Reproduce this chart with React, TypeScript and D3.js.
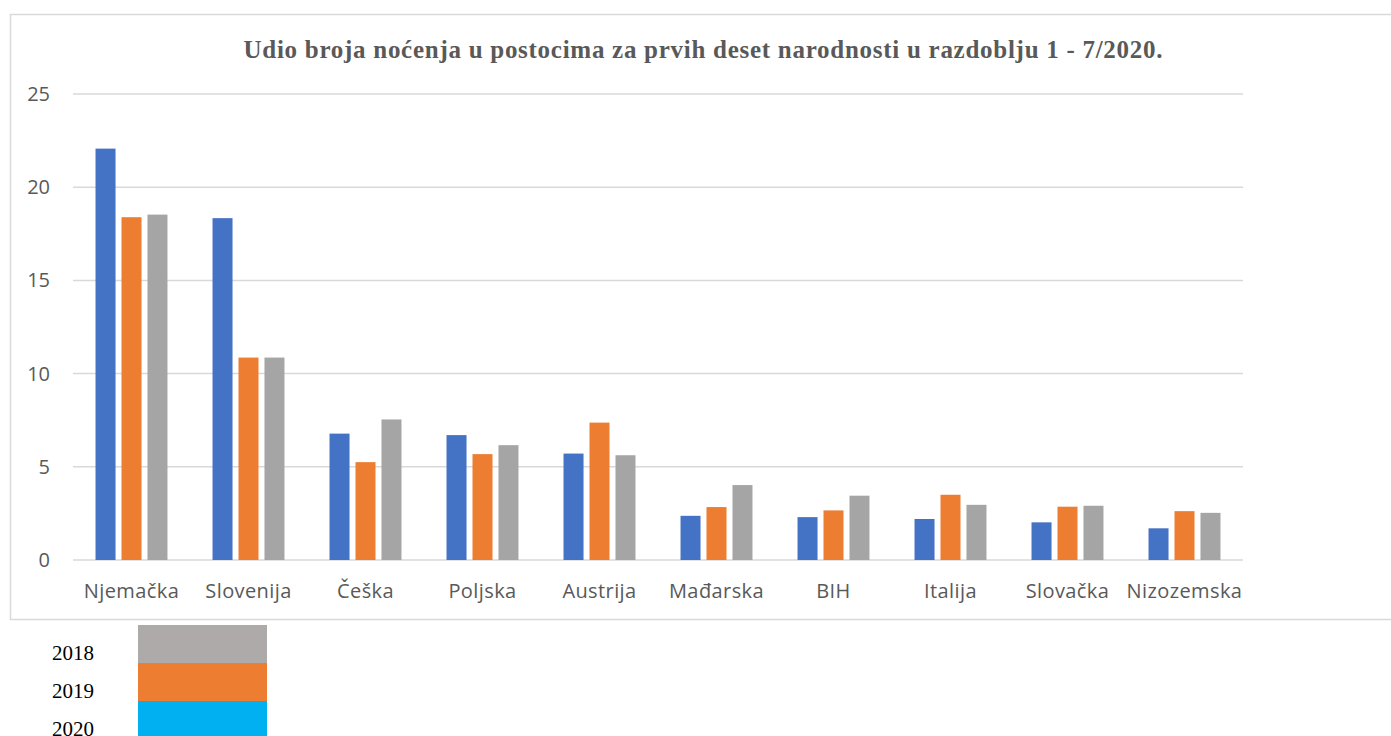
import React, { useEffect, useRef } from "react";
import * as d3 from "d3";

const countries = ["Njemačka", "Slovenija", "Češka", "Poljska", "Austrija", "Mađarska", "BIH", "Italija", "Slovačka", "Nizozemska"];
const series = ["2020", "2019", "2018"];
const values2020 = [22.07, 18.34, 6.78, 6.70, 5.71, 2.37, 2.30, 2.20, 2.02, 1.70];
const values2019 = [18.39, 10.86, 5.25, 5.68, 7.37, 2.84, 2.66, 3.50, 2.86, 2.62];
const values2018 = [18.53, 10.86, 7.54, 6.16, 5.62, 4.02, 3.45, 2.96, 2.91, 2.53];
const yTicks = [0, 5, 10, 15, 20, 25];
const legendLabels = ["2018", "2019", "2020"];

const title = "Udio broja noćenja u postocima za prvih deset narodnosti u razdoblju 1 - 7/2020.";

export default function App() {
  const ref = useRef<SVGSVGElement>(null);

  useEffect(() => {
    const width = 1391, height = 736;
    const margin = { top: 94, right: 148, bottom: 176, left: 73 };
    const innerW = width - margin.left - margin.right;
    const innerH = height - margin.top - margin.bottom;

    const svg = d3.select(ref.current);
    svg.selectAll("*").remove();

    // chart area frame
    svg.append("rect")
      .attr("x", 10.5).attr("y", 14.5)
      .attr("width", 1400).attr("height", 605)
      .attr("fill", "#fff").attr("stroke", "#d9d9d9").attr("stroke-width", 1.5);

    svg.append("text")
      .text(title)
      .attr("x", 703).attr("y", 58)
      .attr("text-anchor", "middle")
      .attr("textLength", 919)
      .attr("lengthAdjust", "spacing")
      .attr("font-family", "'Liberation Serif', 'Times New Roman', serif")
      .attr("font-weight", "bold")
      .attr("font-size", 25)
      .attr("fill", "#595959");

    const g = svg.append("g").attr("transform", `translate(${margin.left},${margin.top})`);

    const x0 = d3.scaleBand().domain(countries).range([0, innerW]).paddingInner(0.385).paddingOuter(0.1925);
    const x1 = d3.scaleBand().domain(series).range([0, x0.bandwidth()]).paddingInner(0.23);
    const y = d3.scaleLinear().domain([0, 25]).range([innerH, 0]);

    g.selectAll(".grid").data(yTicks).enter().append("line")
      .attr("x1", 0).attr("x2", innerW)
      .attr("y1", d => y(d)).attr("y2", d => y(d))
      .attr("stroke", "#d9d9d9").attr("stroke-width", 1.5);

    g.selectAll(".ytick").data(yTicks).enter().append("text")
      .text(d => d)
      .attr("x", -23).attr("y", d => y(d) + 7)
      .attr("text-anchor", "end")
      .attr("font-family", "'Open Sans', sans-serif")
      .attr("font-size", 20)
      .attr("fill", "#595959");

    const colors: Record<string, string> = { "2020": "#4472C4", "2019": "#ED7D31", "2018": "#A5A5A5" };
    const data = countries.map((c, i) => ({
      country: c,
      vals: [
        { key: "2020", v: values2020[i] },
        { key: "2019", v: values2019[i] },
        { key: "2018", v: values2018[i] },
      ],
    }));

    const groups = g.selectAll(".grp").data(data).enter().append("g")
      .attr("transform", d => `translate(${x0(d.country)},0)`);
    groups.selectAll("rect").data(d => d.vals).enter().append("rect")
      .attr("x", d => x1(d.key)!)
      .attr("width", x1.bandwidth())
      .attr("y", d => y(d.v))
      .attr("height", d => innerH - y(d.v))
      .attr("fill", d => colors[d.key]);

    g.selectAll(".xlab").data(countries).enter().append("text")
      .text(d => d)
      .attr("x", d => x0(d)! + x0.bandwidth() / 2)
      .attr("y", innerH + 38)
      .attr("text-anchor", "middle")
      .attr("font-family", "'Open Sans', sans-serif")
      .attr("font-size", 20)
      .attr("letter-spacing", 0.4)
      .attr("fill", "#595959");

    // legend below the chart
    const legendColors = ["#AEAAAA", "#ED7D31", "#00B0F0"];
    const legendY = d3.scaleBand().domain(legendLabels).range([625, 739]);
    const lg = svg.append("g");
    lg.selectAll("rect").data(legendLabels).enter().append("rect")
      .attr("x", 138).attr("width", 129)
      .attr("y", d => legendY(d)!).attr("height", legendY.bandwidth())
      .attr("fill", (d, i) => legendColors[i]);
    lg.selectAll("text").data(legendLabels).enter().append("text")
      .text(d => d)
      .attr("x", 52).attr("y", d => legendY(d)! + 35)
      .attr("font-family", "'Liberation Serif', 'Times New Roman', serif")
      .attr("font-size", 21)
      .attr("fill", "#000");
  }, []);

  return <svg ref={ref} width={1391} height={736} style={{ position: "absolute", left: 0, top: 0 }} />;
}
